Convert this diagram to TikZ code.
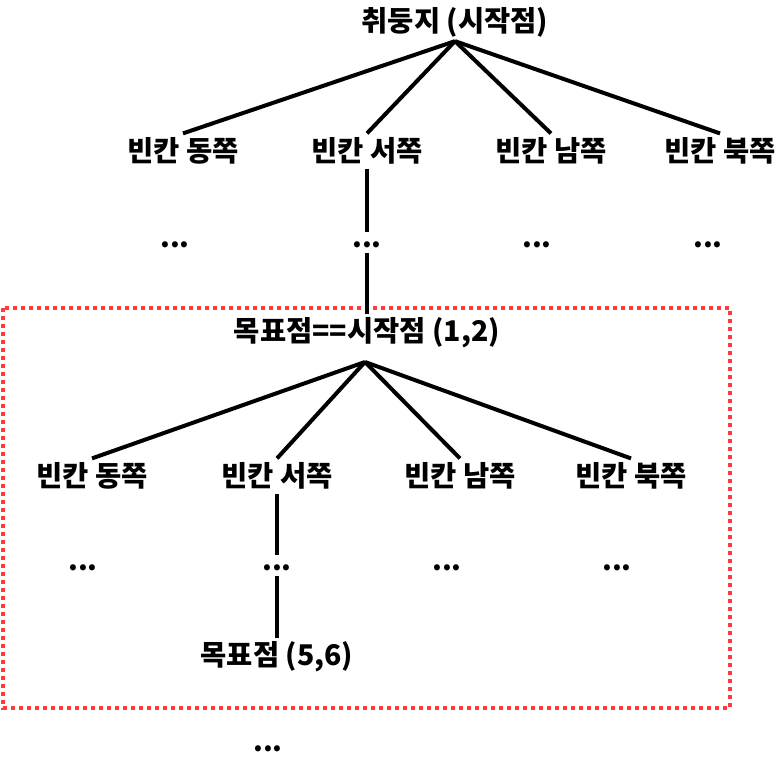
\documentclass[tikz,border=0pt]{standalone}
\usepackage{fontspec}
\setmainfont{Noto Sans CJK KR}
\definecolor{boxred}{RGB}{255,59,59}
\tikzset{
  lbl/.style={font=\fontsize{28.5}{32}\selectfont\bfseries, inner sep=4pt},
  dotsnode/.style={font=\fontsize{28}{32}\selectfont\bfseries, inner sep=0pt,
    text height=15pt, text depth=6pt},
  edge/.style={line width=4pt},
  goalbox/.style={draw=boxred, line width=4pt, dash pattern=on 4pt off 4pt},
}
\begin{document}
\begin{tikzpicture}[x=1pt,y=-1pt]
    \useasboundingbox (0,0) rectangle (784,762);

    % 시작점
    \node[lbl] (root) at (455,22) {취둥지 (시작점)};

    % 첫 번째 단계
    \node[lbl] (e1) at (183,151) {빈칸 동쪽};
    \node[lbl] (w1) at (367,151) {빈칸 서쪽};
    \node[lbl] (s1) at (551,151) {빈칸 남쪽};
    \node[lbl] (n1) at (720,151) {빈칸 북쪽};

    \node[dotsnode] (de1) at (175,242.5) {...};
    \node[dotsnode] (dw1) at (367,242.5) {...};
    \node[dotsnode] (ds1) at (537,242.5) {...};
    \node[dotsnode] (dn1) at (708,242.5) {...};

    \draw[edge] (root.south) -- (e1.north);
    \draw[edge] (root.south) -- (w1.north);
    \draw[edge] (root.south) -- (s1.north);
    \draw[edge] (root.south) -- (n1.north);
    \draw[edge] (w1) -- (dw1);

    % 목표 영역
    \draw[goalbox] (3,308) rectangle (730,708);

    \node[lbl] (root2) at (367,333) {목표점==시작점 (1,2)};
    \coordinate (hub2) at (365,362);
    \draw[edge] (dw1) -- (root2);

    \node[lbl] (e2) at (92,476) {빈칸 동쪽};
    \node[lbl] (w2) at (277,476) {빈칸 서쪽};
    \node[lbl] (s2) at (460,476) {빈칸 남쪽};
    \node[lbl] (n2) at (631,476) {빈칸 북쪽};

    \node[dotsnode] (de2) at (83,565.5) {...};
    \node[dotsnode] (dw2) at (277,565.5) {...};
    \node[dotsnode] (ds2) at (447,565.5) {...};
    \node[dotsnode] (dn2) at (617,565.5) {...};

    \draw[edge] (hub2) -- (e2.north);
    \draw[edge] (hub2) -- (w2.north);
    \draw[edge] (hub2) -- (s2.north);
    \draw[edge] (hub2) -- (n2.north);

    \node[lbl] (goal) at (277,657) {목표점 (5,6)};
    \draw[edge] (w2) -- (dw2) -- (goal);

    % 나머지
    \node[dotsnode] (rest) at (268,746.5) {...};
\end{tikzpicture}
\end{document}
